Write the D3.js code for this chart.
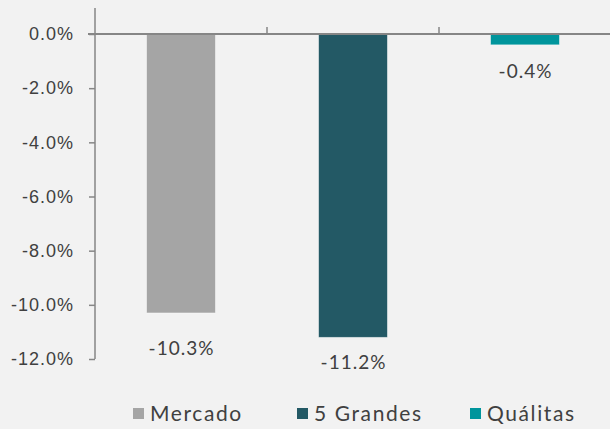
<!DOCTYPE html>
<html>
<head>
<meta charset="utf-8">
<script src="https://cdn.jsdelivr.net/npm/d3@7"></script>
<style>
  body { margin: 0; background: #f2f2f2; }
  svg { display: block; font-family: "Lato", "DejaVu Sans", sans-serif; }
</style>
</head>
<body>
<svg id="chart" width="610" height="429"></svg>
<script>
// chart values
var categories = ["Mercado", "5 Grandes", "Quálitas"];
var values = [-0.103, -0.112, -0.004];
var colors = ["#a5a5a5", "#235965", "#00959c"];
var yTicks = [0, -0.02, -0.04, -0.06, -0.08, -0.10, -0.12];

var svg = d3.select("#chart");
var plotLeft = 95, plotRight = 611, plotTop = 8, plotBottom = 359;

var fmt = d3.formatLocale({ decimal: ".", thousands: ",", grouping: [3], currency: ["$", ""], minus: "-" });
var pct = fmt.format(".1%");

var y = d3.scaleLinear().domain([-0.12, 0.0096]).range([plotBottom, plotTop]);
var x = d3.scaleBand().domain(categories).range([plotLeft, plotRight])
    .paddingInner(0.6).paddingOuter(0.3);

// y axis
var yAxis = svg.append("g")
    .attr("transform", "translate(" + plotLeft + ",0)")
    .call(d3.axisLeft(y).tickValues(yTicks).tickFormat(pct).tickSize(6).tickPadding(15));
yAxis.select(".domain").remove();
yAxis.selectAll("line").attr("stroke", "#868686").attr("stroke-width", 1.5);
yAxis.selectAll("text").attr("fill", "#404040")
    .style("font-size", "18px").style("letter-spacing", "1px");
svg.append("line")
    .attr("x1", plotLeft).attr("x2", plotLeft)
    .attr("y1", plotTop).attr("y2", plotBottom)
    .attr("stroke", "#868686").attr("stroke-width", 1.5);

// bars
svg.selectAll(".bar")
    .data(values)
    .enter().append("rect")
    .attr("class", "bar")
    .attr("x", function (d, i) { return x(categories[i]); })
    .attr("y", y(0))
    .attr("width", x.bandwidth())
    .attr("height", function (d) { return y(d) - y(0); })
    .attr("fill", function (d, i) { return colors[i]; })
    .attr("stroke", "#ffffff").attr("stroke-opacity", 0.5).attr("stroke-width", 0.8);

// category axis at zero
svg.append("line")
    .attr("x1", plotLeft - 7).attr("x2", 610)
    .attr("y1", y(0)).attr("y2", y(0))
    .attr("stroke", "#868686").attr("stroke-width", 2);
svg.selectAll(".ctick")
    .data(categories.slice(1))
    .enter().append("line")
    .attr("x1", function (d) { return x(d) - x.step() * x.paddingInner() / 2; })
    .attr("x2", function (d) { return x(d) - x.step() * x.paddingInner() / 2; })
    .attr("y1", y(0) - 7).attr("y2", y(0))
    .attr("stroke", "#868686").attr("stroke-width", 1.5);

// value labels (first one sits a bit lower in the original)
var labelGap = [42, 32, 33];
svg.selectAll(".lbl")
    .data(values)
    .enter().append("text")
    .attr("x", function (d, i) { return x(categories[i]) + x.bandwidth() / 2 + 0.5; })
    .attr("y", function (d, i) { return y(d) + labelGap[i]; })
    .attr("text-anchor", "middle")
    .attr("fill", "#404040")
    .style("font-size", "19px").style("letter-spacing", "1px")
    .text(function (d) { return pct(d); });

// legend
var legendX = [133, 297, 470];
var lg = svg.selectAll(".lg")
    .data(categories)
    .enter().append("g")
    .attr("transform", function (d, i) { return "translate(" + legendX[i] + ",408)"; });
lg.append("rect").attr("width", 11).attr("height", 11)
    .attr("fill", function (d, i) { return colors[i]; });
lg.append("text").attr("x", 17).attr("y", 13)
    .attr("fill", "#404040").style("font-size", "21px").style("letter-spacing", "1.6px")
    .text(function (d) { return d; });
</script>
</body>
</html>
